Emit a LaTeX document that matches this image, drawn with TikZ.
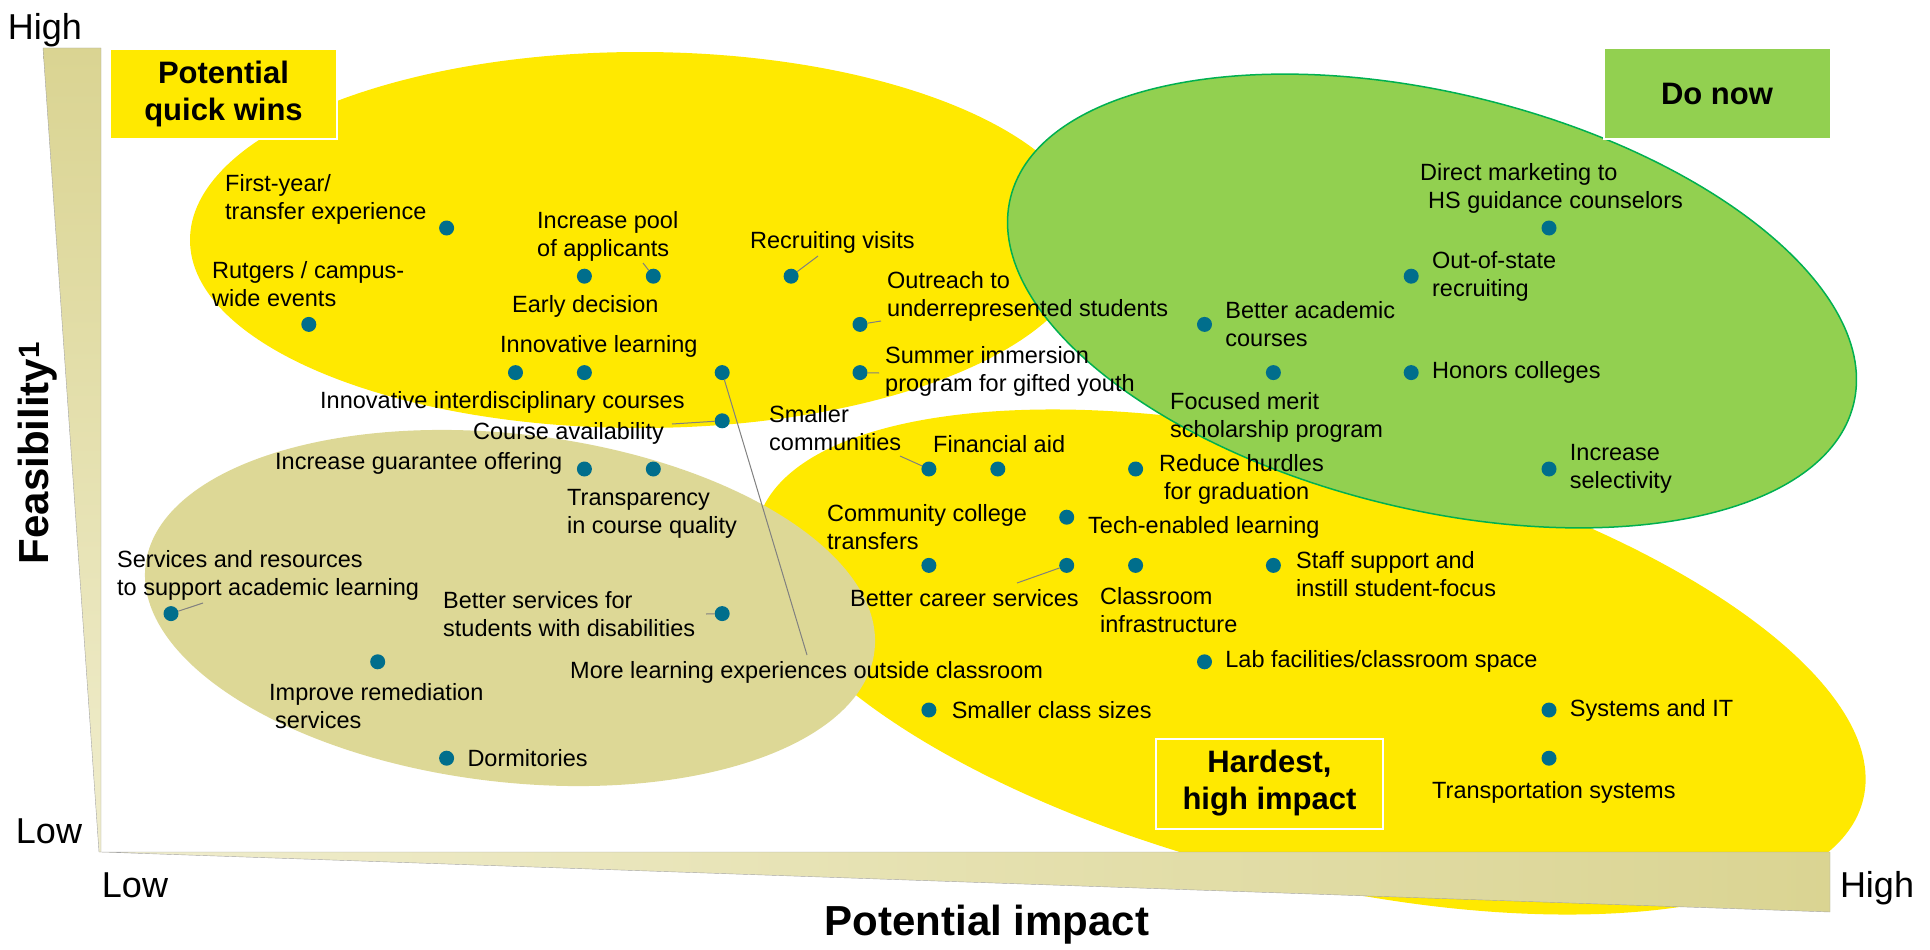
\documentclass[tikz,border=0pt]{standalone}
\usepackage{fontspec}
\setmainfont{Liberation Sans}
\usetikzlibrary{positioning}
\definecolor{qyellow}{RGB}{255,233,0}
\definecolor{dogreen}{RGB}{146,208,80}
\definecolor{greenline}{RGB}{0,176,80}
\definecolor{khaki}{RGB}{221,216,150}
\definecolor{dotblue}{RGB}{0,110,140}
\definecolor{axdark}{RGB}{218,212,146}
\definecolor{axlight}{RGB}{240,237,205}
\definecolor{axgray}{RGB}{165,165,165}
\definecolor{leader}{RGB}{128,128,128}

\begin{document}
\begin{tikzpicture}[x=1pt,y=-1pt,
    dot/.style={circle,fill=dotblue,inner sep=0pt,minimum size=15pt},
    lbl/.style={anchor=west,align=left,inner sep=0pt,font=\fontsize{23.5}{28}\selectfont},
    quadbox/.style={draw=white,line width=2pt,minimum width=227pt,minimum height=90pt,
                    align=center,font=\bfseries\fontsize{31}{37}\selectfont},
    axlbl/.style={inner sep=0pt,font=\fontsize{36}{40}\selectfont},
    leadline/.style={draw=leader,line width=1pt}]
    \useasboundingbox (0,0) rectangle (1930,950);
    \def\gx{68.9}
    \def\gy{48.2}

    % areas
    \fill[qyellow] (640,240) ellipse[x radius=450,y radius=188];
    \fill[qyellow,rotate around={-14:(1310,662)}] (1310,662) ellipse[x radius=570,y radius=218];
    \fill[khaki,rotate around={-6.7:(510,608)}] (510,608) ellipse[x radius=367,y radius=174];
    \filldraw[fill=dogreen,draw=greenline,line width=1.5pt,rotate around={-13.75:(1432,301)}]
      (1432,301) ellipse[x radius=434,y radius=208];

    % axes
    \shadedraw[top color=axdark,bottom color=axlight,draw=axgray] (43,48) -- (101,48) -- (101,852) -- (99,852) -- cycle;
    \shadedraw[left color=axlight,right color=axdark,draw=axgray] (101,852) -- (1830,852) -- (1830,912) -- cycle;
    \node[axlbl] (fhigh) at (45,30) {High};
    \node[axlbl] (flow) at (49,831) {Low};
    \node[axlbl] (ilow) at (135,885) {Low};
    \node[axlbl] (ihigh) at (1877,888) {High};
    \node[inner sep=0pt,font=\bfseries\fontsize{42}{46}\selectfont] (impact) at (987,925) {Potential impact};
    \node[inner sep=0pt,rotate=90,font=\bfseries\fontsize{42}{46}\selectfont] (feas) at (38,453) {Feasibility\textsuperscript{1}};

    % quadrant boxes
    \node[quadbox,fill=qyellow] (qwins) at (223.5,94) {Potential\\quick wins};
    \node[quadbox,fill=dogreen] (donow) at (1717,93.5) {Do now};
    \node[quadbox,fill=qyellow] (hardest) at (1269.5,783.5) {Hardest,\\high impact};

    % initiatives on the grid
    \foreach \name/\i/\j in {fy/4/0, early/6/1, pool/7/1, visits/9/1, rutgers/2/2, outreach/10/2,
                             innova/5/3, innovb/6/3, morelearn/8/3, summer/10/3, avail/8/4,
                             guarantee/6/5, transp/7/5, smallcom/11/5, finaid/12/5, hurdles/14/5,
                             tech/13/6, cc/11/7, career/13/7, classroom/14/7, staff/16/7,
                             services/0/8, disab/8/8, remed/3/9, lab/15/9, smallclass/11/10,
                             dorm/4/11, direct/20/0, outstate/18/1, betteracad/15/2, merit/16/3,
                             honors/18/3, select/20/5, systems/20/10, transport/20/11}{
      \node[dot] (d-\name) at (171+\i*\gx,228+\j*\gy) {};
    }

    \node[lbl] (l-fy) at (225,199) {First-year/\\transfer experience};
    \node[lbl] (l-pool) at (537,236) {Increase pool\\of applicants};
    \node[lbl] (l-visits) at (750,242) {Recruiting visits};
    \node[lbl] (l-rutgers) at (212,284) {Rutgers / campus-\\wide events};
    \node[lbl] (l-early) at (512,306) {Early decision};
    \node[lbl] (l-outreach) at (887,296) {Outreach to\\underrepresented students};
    \node[lbl] (l-innov) at (500,346) {Innovative learning};
    \node[lbl] (l-summer) at (885,371) {Summer immersion\\program for gifted youth};
    \node[lbl] (l-interd) at (320,402) {Innovative interdisciplinary courses};
    \node[lbl] (l-avail) at (473,433) {Course availability};
    \node[lbl] (l-smallcom) at (769,428) {Smaller\\communities};
    \node[lbl] (l-finaid) at (933,444) {Financial aid};
    \node[lbl] (l-hurdles) at (1159,479) {Reduce hurdles\\\hspace*{5pt}for graduation};
    \node[lbl] (l-guarantee) at (275,463) {Increase guarantee offering};
    \node[lbl] (l-transp) at (567,514) {Transparency\\in course quality};
    \node[lbl] (l-cc) at (827,527) {Community college\\transfers};
    \node[lbl] (l-tech) at (1088,527) {Tech-enabled learning};
    \node[lbl] (l-career) at (850,598) {Better career services};
    \node[lbl] (l-classroom) at (1100,610) {Classroom\\infrastructure};
    \node[lbl] (l-staff) at (1296,574) {Staff support and\\instill student-focus};
    \node[lbl,right=13pt of d-lab] (l-lab) {Lab facilities/classroom space};
    \node[lbl] (l-morelearn) at (570,672) {More learning experiences outside classroom};
    \node[lbl,right=15pt of d-smallclass] (l-smallclass) {Smaller class sizes};
    \node[lbl] (l-services) at (117,575) {Services and resources\\to support academic learning};
    \node[lbl] (l-disab) at (443,614) {Better services for\\students with disabilities};
    \node[lbl] (l-remed) at (269,706) {Improve remediation\\\hspace*{6pt}services};
    \node[lbl,right=13pt of d-dorm] (l-dorm) {Dormitories};
    \node[lbl] (l-direct) at (1420,188) {Direct marketing to\\\hspace*{8pt}HS guidance counselors};
    \node[lbl,right=13pt of d-outstate] (l-outstate) {Out-of-state\\recruiting};
    \node[lbl,right=13pt of d-betteracad] (l-betteracad) {Better academic\\courses};
    \node[lbl] (l-merit) at (1170,417) {Focused merit\\scholarship program};
    \node[lbl,right=13pt of d-honors] (l-honors) {Honors colleges};
    \node[lbl,right=13pt of d-select] (l-select) {Increase\\selectivity};
    \node[lbl,right=13pt of d-systems] (l-systems) {Systems and IT};
    \node[lbl] (l-transport) at (1432,792) {Transportation systems};

    % leader lines
    \foreach \name/\x/\y in {pool/643/263, visits/818/256, outreach/881/321, summer/879/373,
                             morelearn/807/655, avail/672/424, smallcom/900/456,
                             career/1017/583, services/203/603, disab/706/614}{
      \coordinate (e-\name) at (\x,\y);
      \draw[leadline] (d-\name) -- (e-\name);
    }
\end{tikzpicture}
\end{document}
